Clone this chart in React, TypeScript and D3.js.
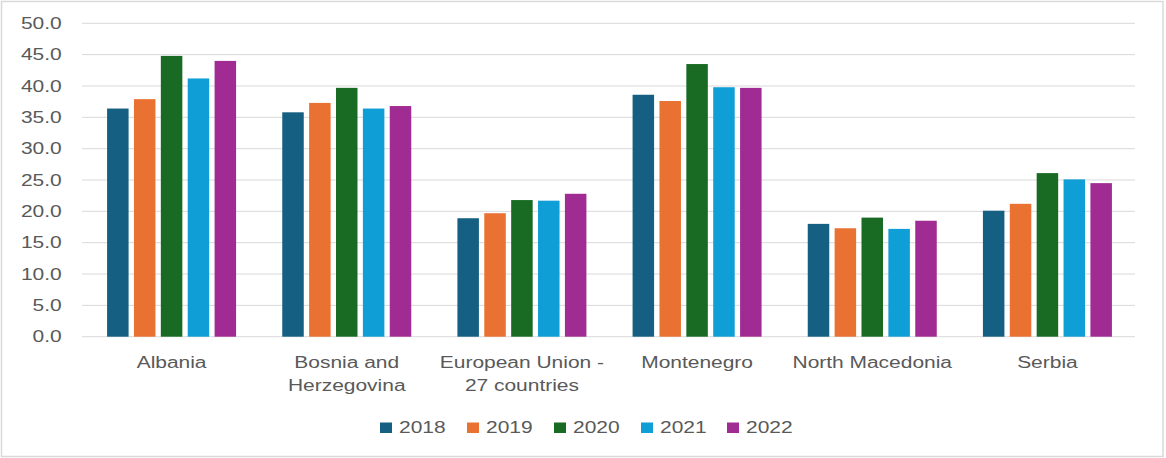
import React from "react";
import * as d3 from "d3";

const categories: string[][] = [
  ["Albania"],
  ["Bosnia and", "Herzegovina"],
  ["European Union -", "27 countries"],
  ["Montenegro"],
  ["North Macedonia"],
  ["Serbia"],
];
const years = ["2018", "2019", "2020", "2021", "2022"];
const v2018 = [36.4, 35.8, 18.9, 38.6, 18.0, 20.1];
const v2019 = [37.9, 37.3, 19.7, 37.6, 17.3, 21.2];
const v2020 = [44.8, 39.7, 21.8, 43.5, 19.0, 26.1];
const v2021 = [41.2, 36.4, 21.7, 39.8, 17.2, 25.1];
const v2022 = [44.0, 36.8, 22.8, 39.7, 18.5, 24.5];
const series = [v2018, v2019, v2020, v2021, v2022];
const colors = ["#156082", "#E97132", "#196B24", "#0F9ED5", "#A02B93"];
const yTicks = [0, 5, 10, 15, 20, 25, 30, 35, 40, 45, 50];

const W = 1166;
const H = 458;
const TEXT = "#595959";
const FONT = "'Liberation Sans', Arial, sans-serif";
const SX = 1.31;

export default function App() {
  const keys = categories.map((c) => c.join(" "));
  const x0 = d3.scaleBand<string>().domain(keys).range([84, 1135]).padding(0);
  const x1 = d3.scaleBand<string>().domain(years).range([-64.5, 64.5]).paddingInner(0.2).paddingOuter(0);
  const y = d3.scaleLinear().domain([0, 50]).range([336.7, 23.3]);

  const legendX = [380, 467, 554, 641, 727];

  return (
    <svg width={W} height={H} style={{ position: "absolute", left: 0, top: 0, background: "#fff" }}>
      <rect x={1.5} y={1.5} width={1161.5} height={455} fill="#fff" stroke="#d9d9d9" strokeWidth={1.5} />
      {yTicks.map((t) => (
        <g key={t}>
          <line x1={82} x2={1135} y1={y(t)} y2={y(t)} stroke="#d9d9d9" strokeWidth={1} />
          <text
            transform={`translate(61.7, ${y(t) + 5.6}) scale(${SX},1)`}
            textAnchor="end"
            fontFamily={FONT}
            fontSize={16}
            fill={TEXT}
          >
            {d3.format(".1f")(t)}
          </text>
        </g>
      ))}
      {keys.map((k, ci) => (
        <g key={k}>
          {series.map((s, si) => {
            const cx = (x0(k) as number) + x0.bandwidth() / 2;
            const bx = cx + (x1(years[si]) as number);
            return (
              <rect
                key={si}
                x={bx}
                y={y(s[ci])}
                width={x1.bandwidth()}
                height={y(0) - y(s[ci])}
                fill={colors[si]}
              />
            );
          })}
          {categories[ci].map((line, li) => (
            <text
              key={li}
              transform={`translate(${(x0(k) as number) + x0.bandwidth() / 2}, ${367.5 + li * 23.5}) scale(${SX},1)`}
              textAnchor="middle"
              fontFamily={FONT}
              fontSize={16}
              fill={TEXT}
            >
              {line}
            </text>
          ))}
        </g>
      ))}
      {years.map((yr, i) => (
        <g key={yr}>
          <rect x={legendX[i]} y={422.5} width={12} height={10.5} fill={colors[i]} />
          <text
            transform={`translate(${legendX[i] + 19}, 433.3) scale(${SX},1)`}
            fontFamily={FONT}
            fontSize={16}
            fill={TEXT}
          >
            {yr}
          </text>
        </g>
      ))}
    </svg>
  );
}
